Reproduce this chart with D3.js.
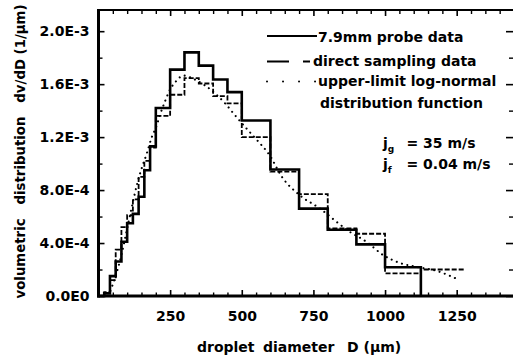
<!DOCTYPE html>
<html>
<head>
<meta charset="utf-8">
<script src="https://cdn.jsdelivr.net/npm/d3@7"></script>
<style>
  html, body { margin: 0; padding: 0; background: #fff; }
  svg { display: block; }
  text { font-family: "DejaVu Sans", sans-serif; font-weight: bold; fill: #000; }
</style>
</head>
<body>
<script>
// ---------------- data ----------------
const probeEdges = [20,40,60,80,100,120,140,160,180,200,250,300,350,400,450,500,600,700,800,900,1000,1125];
const probeValues = [0.2e-4,1.5e-4,2.6e-4,4.1e-4,5.5e-4,6.2e-4,7.5e-4,9.5e-4,1.13e-3,1.42e-3,1.71e-3,1.84e-3,1.74e-3,1.635e-3,1.54e-3,1.325e-3,9.55e-4,6.6e-4,5.0e-4,3.9e-4,2.17e-4];

const samplingEdges = [20,40,60,80,100,120,140,160,180,200,250,300,350,400,450,500,600,700,800,900,1000,1125,1275];
const samplingValues = [0.3e-4,1.2e-4,3.5e-4,5.2e-4,6.1e-4,7.3e-4,9.0e-4,1.02e-3,1.12e-3,1.36e-3,1.52e-3,1.645e-3,1.605e-3,1.51e-3,1.455e-3,1.2e-3,9.4e-4,7.7e-4,5.1e-4,4.7e-4,1.71e-4,2.0e-4];

const fitD = [35,47,64,82,99,116,134,150,169,186,200,215,232,250,270,296,331,372,407,442,476,511,552,598,640,703,773,831,877,935,993,1051,1110,1179,1260];
const fitV = [0,0.07e-3,0.18e-3,0.33e-3,0.5e-3,0.67e-3,0.84e-3,0.96e-3,1.08e-3,1.2e-3,1.27e-3,1.37e-3,1.47e-3,1.56e-3,1.62e-3,1.665e-3,1.64e-3,1.59e-3,1.53e-3,1.454e-3,1.366e-3,1.278e-3,1.18e-3,1.06e-3,0.9e-3,0.76e-3,0.66e-3,0.56e-3,0.485e-3,0.41e-3,0.31e-3,0.25e-3,0.22e-3,0.19e-3,0.12e-3];

const yTicks = [0, 4e-4, 8e-4, 1.2e-3, 1.6e-3, 2.0e-3];
const yTickLabels = ["0.0E0","4.0E-4","8.0E-4","1.2E-3","1.6E-3","2.0E-3"];
const yMinorTicks = [2e-4, 6e-4, 1.0e-3, 1.4e-3, 1.8e-3];
const xTicks = [250, 500, 750, 1000, 1250];
const xTickLabels = ["250","500","750","1000","1250"];
const xMinorTicks = [50,100,150,200,300,350,400,450,550,600,650,700,800,850,900,950,1050,1100,1150,1200,1300,1350,1400];

const legendLabels = ["7.9mm probe data", "direct sampling data", "upper-limit log-normal", "distribution function"];
const xLabel = ["droplet", "diameter", "D (\u00b5m)"];
const yLabel = "volumetric   distribution   dv/dD (1/\u00b5m)";

// ---------------- layout ----------------
const W = 513, H = 362;
const L = 98.5, R = 514, T = 10, B = 296;
const x = d3.scaleLinear().domain([0, 1450]).range([L, R]);
const y = d3.scaleLinear().domain([0, 2.16e-3]).range([B, T]);

const svg = d3.select("body").append("svg").attr("width", W).attr("height", H);

function styleAxis(g, w) {
  g.select(".domain").remove();
  g.selectAll(".tick line").attr("stroke", "#000").attr("stroke-width", w);
  g.selectAll(".tick text").style("font-size", "14px").style("font-weight", "bold")
    .style("font-family", "'DejaVu Sans', sans-serif").attr("fill", "#000");
}

// left axis
svg.append("g").attr("transform", `translate(${L},0)`)
  .call(d3.axisLeft(y).tickValues(yTicks).tickFormat((d, i) => yTickLabels[i])
    .tickSizeInner(-6).tickSizeOuter(0).tickPadding(9))
  .call(g => styleAxis(g, 1.6));
svg.append("g").attr("transform", `translate(${L},0)`)
  .call(d3.axisLeft(y).tickValues(yMinorTicks).tickFormat("").tickSizeInner(-4).tickSizeOuter(0))
  .call(g => styleAxis(g, 1.4));
// right axis
svg.append("g").attr("transform", `translate(${R},0)`)
  .call(d3.axisRight(y).tickValues(yTicks).tickFormat("").tickSizeInner(-8).tickSizeOuter(0))
  .call(g => styleAxis(g, 1.6));
svg.append("g").attr("transform", `translate(${R},0)`)
  .call(d3.axisRight(y).tickValues(yMinorTicks).tickFormat("").tickSizeInner(-5).tickSizeOuter(0))
  .call(g => styleAxis(g, 1.4));
// bottom axis
svg.append("g").attr("transform", `translate(0,${B})`)
  .call(d3.axisBottom(x).tickValues(xTicks).tickFormat((d, i) => xTickLabels[i])
    .tickSizeInner(-6).tickSizeOuter(0).tickPadding(15))
  .call(g => styleAxis(g, 1.6));
svg.append("g").attr("transform", `translate(0,${B})`)
  .call(d3.axisBottom(x).tickValues(xMinorTicks).tickFormat("").tickSizeInner(-3.5).tickSizeOuter(0))
  .call(g => styleAxis(g, 1.4));
// top axis
svg.append("g").attr("transform", `translate(0,${T})`)
  .call(d3.axisTop(x).tickValues(xTicks).tickFormat("").tickSizeInner(-6).tickSizeOuter(0))
  .call(g => styleAxis(g, 1.6));
svg.append("g").attr("transform", `translate(0,${T})`)
  .call(d3.axisTop(x).tickValues(xMinorTicks).tickFormat("").tickSizeInner(-4).tickSizeOuter(0))
  .call(g => styleAxis(g, 1.4));

// frame
svg.append("line").attr("x1", L).attr("x2", L).attr("y1", T - 1).attr("y2", B + 1.5)
  .attr("stroke", "#000").attr("stroke-width", 3);
svg.append("line").attr("x1", L - 1.5).attr("x2", R).attr("y1", B).attr("y2", B)
  .attr("stroke", "#000").attr("stroke-width", 3.2);
svg.append("line").attr("x1", L).attr("x2", R).attr("y1", T).attr("y2", T)
  .attr("stroke", "#000").attr("stroke-width", 2);
svg.append("line").attr("x1", R).attr("x2", R).attr("y1", T).attr("y2", B)
  .attr("stroke", "#000").attr("stroke-width", 2);

// ---------------- series ----------------
const stepLine = d3.line().x(d => x(d[0])).y(d => y(d[1])).curve(d3.curveStepAfter);

const probePts = [[0, 0]].concat(probeValues.map((v, i) => [probeEdges[i], v]))
  .concat([[probeEdges[probeEdges.length - 1], 0]]);
const samplingPts = [[0, 0]].concat(samplingValues.map((v, i) => [samplingEdges[i], v]))
  .concat([[samplingEdges[samplingEdges.length - 1], samplingValues[samplingValues.length - 1]]]);

svg.append("path").attr("d", stepLine(samplingPts)).attr("fill", "none")
  .attr("stroke", "#000").attr("stroke-width", 1.8).attr("stroke-dasharray", "5,2");

svg.append("path").attr("d", stepLine(probePts)).attr("fill", "none")
  .attr("stroke", "#000").attr("stroke-width", 2.6).attr("stroke-linejoin", "miter");

const fitLine = d3.line().x((d, i) => x(fitD[i])).y((d, i) => y(fitV[i])).curve(d3.curveMonotoneX);
svg.append("path").attr("d", fitLine(fitD)).attr("fill", "none")
  .attr("stroke", "#000").attr("stroke-width", 2.1).attr("stroke-linecap", "round")
  .attr("stroke-dasharray", "0.01,5.5");

// ---------------- legend ----------------
svg.append("line").attr("x1", 267).attr("x2", 317).attr("y1", 36).attr("y2", 36)
  .attr("stroke", "#000").attr("stroke-width", 2);
svg.append("line").attr("x1", 267).attr("x2", 310).attr("y1", 61.5).attr("y2", 61.5)
  .attr("stroke", "#000").attr("stroke-width", 2).attr("stroke-dasharray", "22,14");
svg.append("line").attr("x1", 267).attr("x2", 316).attr("y1", 81.5).attr("y2", 81.5)
  .attr("stroke", "#000").attr("stroke-width", 2).attr("stroke-linecap", "round")
  .attr("stroke-dasharray", "0.01,16");

const legendPos = [[318, 41.7], [313, 65.5], [318, 86], [320, 107.5]];
legendLabels.forEach((t, i) => {
  svg.append("text").attr("x", legendPos[i][0]).attr("y", legendPos[i][1])
    .style("font-size", "14px").text(t);
});

// j_g / j_f annotation
const ann = [["g", "= 35 m/s", 147.5], ["f", "= 0.04 m/s", 168.5]];
ann.forEach(a => {
  const t = svg.append("text").attr("x", 383).attr("y", a[2]).style("font-size", "14px");
  t.append("tspan").text("j");
  t.append("tspan").attr("dy", 4).style("font-size", "9px").text(a[0]);
  svg.append("text").attr("x", 406.5).attr("y", a[2]).style("font-size", "14px").text(a[1]);
});

// ---------------- axis titles ----------------
const xLabelPos = [197, 263, 347];
xLabel.forEach((t, i) => {
  svg.append("text").attr("x", xLabelPos[i]).attr("y", 351.5).style("font-size", "14px").text(t);
});

svg.append("text").attr("transform", "translate(25,151.5) rotate(-90)")
  .attr("text-anchor", "middle").attr("xml:space", "preserve")
  .style("white-space", "pre").style("font-size", "13.3px").text(yLabel);
</script>
</body>
</html>
